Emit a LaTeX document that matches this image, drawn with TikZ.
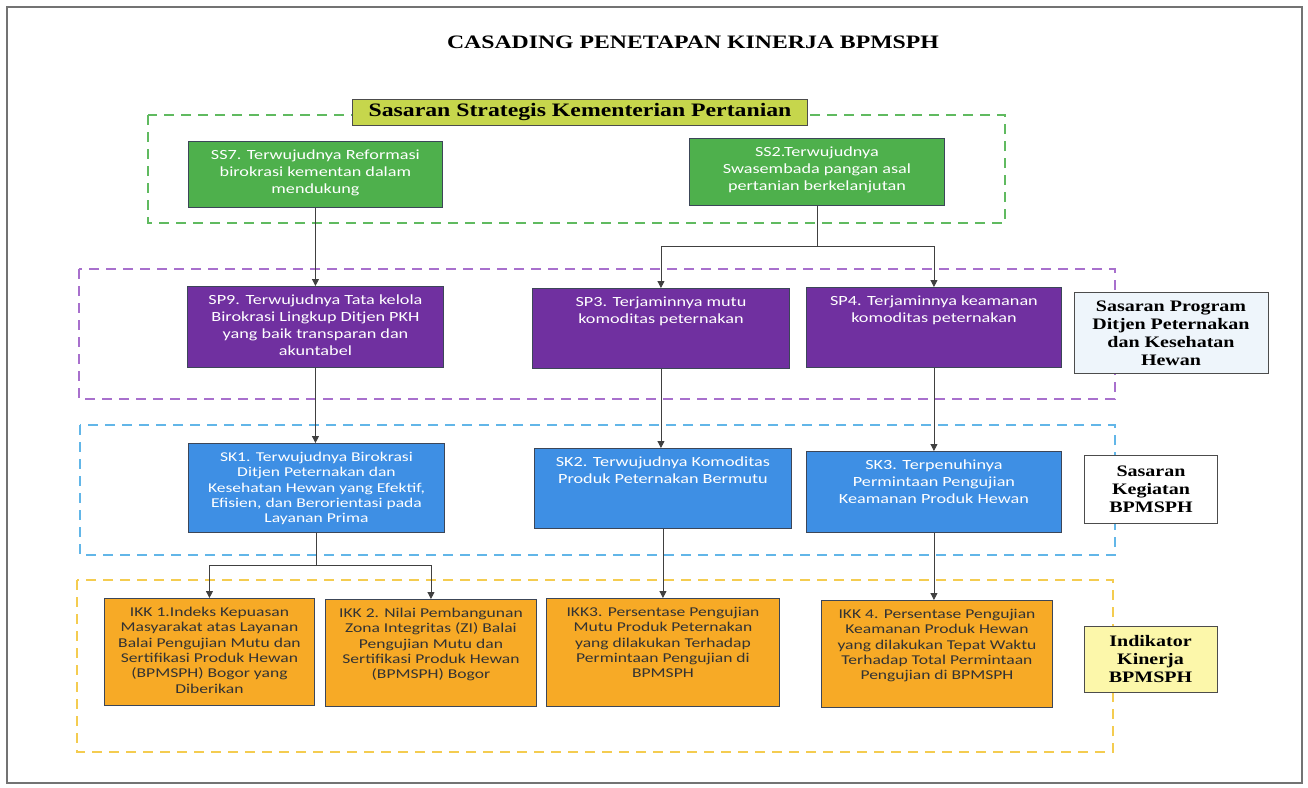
\documentclass[tikz,border=0pt]{standalone}
\usepackage{fontspec}
\setmainfont{Liberation Serif}[FakeStretch=1.25]
\newfontfamily\boxfont{Carlito}[FakeStretch=1.3]
\usetikzlibrary{arrows.meta}
\usetikzlibrary{positioning}

\definecolor{zonegreen}{RGB}{96,186,96}
\definecolor{zonepurple}{RGB}{168,112,205}
\definecolor{zoneblue}{RGB}{98,182,232}
\definecolor{zoneorange}{RGB}{244,204,80}
\definecolor{ssfill}{RGB}{78,176,76}
\definecolor{spfill}{RGB}{112,48,160}
\definecolor{skfill}{RGB}{62,143,228}
\definecolor{ikkfill}{RGB}{247,170,38}
\definecolor{titlegreen}{RGB}{198,214,76}
\definecolor{progfill}{RGB}{238,245,251}
\definecolor{indfill}{RGB}{252,247,170}
\definecolor{boxline}{RGB}{60,70,88}

\tikzset{
  zone/.style={dashed, dash pattern=on 10pt off 7pt, line width=1.4pt},
  goal/.style={draw=boxline, line width=0.9pt, anchor=north west, inner sep=0pt},
  txtbig/.style={font=\boxfont\fontsize{14}{17}\selectfont, align=center, anchor=north, inner sep=0pt, yshift=-9pt},
  txtsmall/.style={font=\boxfont\fontsize{13.5}{15.3}\selectfont, align=center, anchor=north, inner sep=0pt, yshift=-9pt},
  tag/.style={draw=black!70, line width=1pt, inner sep=2pt, font=\bfseries\fontsize{16}{18}\selectfont, align=center},
  arr/.style={-{Triangle[length=7pt,width=7pt]}, draw=black!75, line width=0.8pt},
}

\begin{document}
\begin{tikzpicture}[x=1pt, y=-1pt]

\useasboundingbox (0,0) rectangle (1308,787);

% Outer frame
\draw[black!55, line width=1.2pt] (7,7) rectangle (1302,783);

% Title
\node[font=\bfseries\fontsize{19}{22}\selectfont] (title) at (693,42) {CASADING PENETAPAN KINERJA BPMSPH};

% Dashed zones
\draw[zone, draw=zonegreen, line width=2pt] (148,115) rectangle (1005,223);
\draw[zone, draw=zonepurple] (79,269) rectangle (1115,399);
\draw[zone, draw=zoneblue] (80,425) rectangle (1115,555);
\draw[zone, draw=zoneorange] (77,580) rectangle (1113,752);

\node[draw=black!70, line width=1pt, fill=titlegreen, minimum width=455pt, minimum height=26pt, inner sep=0pt,
  font=\bfseries\fontsize{19}{22}\selectfont] (sstitle) at (580,112.5) {Sasaran Strategis Kementerian Pertanian};

% Sasaran strategis
\node[goal, fill=ssfill, minimum width=254pt, minimum height=66pt,
  label={[txtbig, text=white]north:{SS7. Terwujudnya Reformasi\\ birokrasi kementan dalam\\ mendukung}}] (ss7) at (188,141) {};
\node[goal, fill=ssfill, minimum width=255pt, minimum height=67pt,
  label={[txtbig, text=white]north:{SS2.Terwujudnya\\ Swasembada pangan asal\\ pertanian berkelanjutan}}] (ss2) at (689,138) {};

% Sasaran program
\node[goal, fill=spfill, minimum width=256pt, minimum height=81pt,
  label={[txtbig, text=white]north:{SP9. Terwujudnya Tata kelola\\ Birokrasi Lingkup Ditjen PKH\\ yang baik transparan dan\\ akuntabel}}] (sp9) at (187,286) {};
\node[goal, fill=spfill, minimum width=257pt, minimum height=80pt,
  label={[txtbig, text=white]north:{SP3. Terjaminnya mutu\\ komoditas peternakan}}] (sp3) at (532,288) {};
\node[goal, fill=spfill, minimum width=255pt, minimum height=80pt,
  label={[txtbig, text=white]north:{SP4. Terjaminnya keamanan\\ komoditas peternakan}}] (sp4) at (806,287) {};

% Sasaran kegiatan
\node[goal, fill=skfill, minimum width=256pt, minimum height=89pt,
  label={[txtsmall, text=white]north:{SK1. Terwujudnya Birokrasi\\ Ditjen Peternakan dan\\ Kesehatan Hewan yang Efektif,\\ Efisien, dan Berorientasi pada\\ Layanan Prima}}] (sk1) at (188,443) {};
\node[goal, fill=skfill, minimum width=257pt, minimum height=80pt,
  label={[txtbig, text=white]north:{SK2. Terwujudnya Komoditas\\ Produk Peternakan Bermutu}}] (sk2) at (534,448) {};
\node[goal, fill=skfill, minimum width=255pt, minimum height=81pt,
  label={[txtbig, text=white]north:{SK3. Terpenuhinya\\ Permintaan Pengujian\\ Keamanan Produk Hewan}}] (sk3) at (806,451) {};

% Indikator kinerja
\node[goal, fill=ikkfill, minimum width=210pt, minimum height=107pt,
  label={[txtsmall, text=black!80]north:{IKK 1.Indeks Kepuasan\\ Masyarakat atas Layanan\\ Balai Pengujian Mutu dan\\ Sertifikasi Produk Hewan\\ (BPMSPH) Bogor yang\\ Diberikan}}] (ikk1) at (104,598) {};
\node[goal, fill=ikkfill, minimum width=211pt, minimum height=107pt,
  label={[txtsmall, text=black!80]north:{IKK 2. Nilai Pembangunan\\ Zona Integritas (ZI) Balai\\ Pengujian Mutu dan\\ Sertifikasi Produk Hewan\\ (BPMSPH) Bogor}}] (ikk2) at (325,599) {};
\node[goal, fill=ikkfill, minimum width=233pt, minimum height=108pt,
  label={[txtsmall, text=black!80]north:{IKK3. Persentase Pengujian\\ Mutu Produk Peternakan\\ yang dilakukan Terhadap\\ Permintaan Pengujian di\\ BPMSPH}}] (ikk3) at (546,598) {};
\node[goal, fill=ikkfill, minimum width=231pt, minimum height=107pt,
  label={[txtsmall, text=black!80]north:{IKK 4. Persentase Pengujian\\ Keamanan Produk Hewan\\ yang dilakukan Tepat Waktu\\ Terhadap Total Permintaan\\ Pengujian di BPMSPH}}] (ikk4) at (821,600) {};

% Level tags
\node[tag, fill=progfill, minimum width=194pt, minimum height=81pt] (tprog) at (1171,333)
  {Sasaran Program\\ Ditjen Peternakan\\ dan Kesehatan\\ Hewan};
\node[tag, fill=white, minimum width=133pt, minimum height=68pt] (tkeg) at (1151,489)
  {Sasaran\\ Kegiatan\\ BPMSPH};
\node[tag, fill=indfill, minimum width=133pt, minimum height=66pt] (tind) at (1150.5,659)
  {Indikator\\ Kinerja\\ BPMSPH};

% Connectors
\foreach \a/\b in {ss7/sp9, sp9/sk1, sp3/sk2, sp4/sk3, sk2/ikk3, sk3/ikk4}
  \draw[arr] (\a.south) -- (\a.south |- \b.north);

\draw[arr] (ss2.south) -- ++(0,40) -| (sp3.north);
\draw[arr] (ss2.south) -- ++(0,40) -| (sp4.north);
\draw[arr] (sk1.south) -- ++(0,32) -| (ikk1.north);
\draw[arr] (sk1.south) -- ++(0,32) -| (ikk2.north);

\end{tikzpicture}
\end{document}
